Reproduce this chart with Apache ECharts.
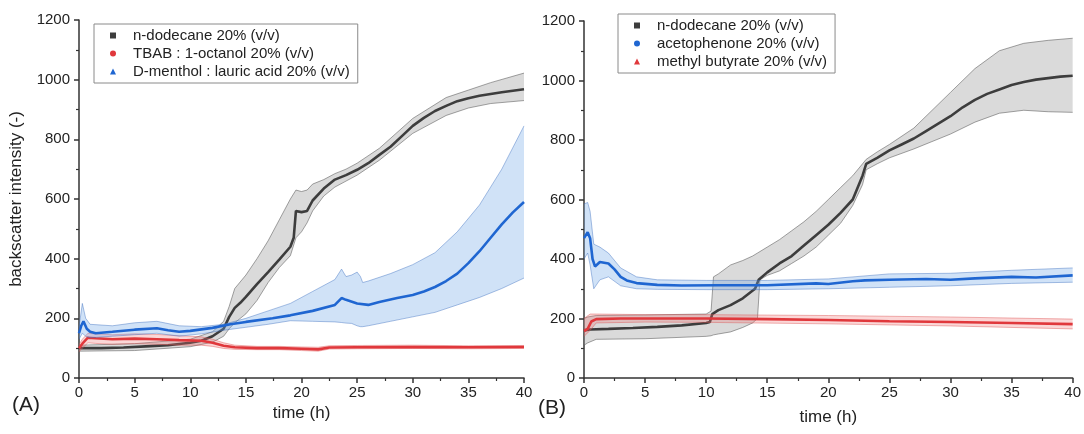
<!DOCTYPE html>
<html>
<head>
<meta charset="utf-8">
<script src="https://cdn.jsdelivr.net/npm/echarts@6/dist/echarts.min.js"></script>
<style>
  html, body { margin: 0; padding: 0; background: #fff; }
  #chart { width: 1084px; height: 434px; }
</style>
</head>
<body>
<div id="chart"></div>
<script>
// Axis ticks shared by both panels
const timeTicks = [0, 5, 10, 15, 20, 25, 30, 35, 40];
const intensityTicks = [0, 200, 400, 600, 800, 1000, 1200];

// ---------- Panel A ----------
// n-dodecane 20% (v/v)
const aDodecaneT    = [0, 2, 4, 6, 8, 10, 11, 12, 13, 13.5, 14, 14.5, 15, 16, 17, 18, 19, 19.3, 19.5, 20, 20.5, 21, 22, 23, 24, 25, 26, 27, 28, 29, 30, 31, 32, 33, 34, 35, 36, 37, 38, 39, 40];
const aDodecaneMean = [100, 100, 102, 106, 110, 118, 125, 140, 165, 205, 235, 252, 272, 315, 355, 397, 440, 470, 560, 556, 560, 595, 635, 665, 680, 698, 720, 748, 775, 810, 845, 872, 895, 912, 928, 938, 946, 952, 958, 963, 968];
const aDodecaneBandT = [0, 5, 10, 12, 13, 13.5, 14, 15, 16, 17, 18, 19, 19.5, 20, 20.5, 21, 22, 23, 24, 25, 27, 30, 33, 35, 37, 40];
const aDodecaneLo    = [90, 92, 105, 120, 140, 165, 185, 215, 260, 320, 370, 410, 470, 490, 520, 560, 610, 640, 660, 680, 730, 820, 880, 905, 920, 930];
const aDodecaneHi    = [110, 115, 130, 155, 190, 240, 300, 345, 400, 460, 530, 600, 630, 625, 630, 650, 665, 685, 700, 720, 770, 870, 940, 965, 990, 1022];

// TBAB : 1-octanol 20% (v/v)
const aTbabT    = [0, 0.3, 0.8, 1.5, 3, 5, 7, 9, 11, 12, 13, 14, 16, 18, 20, 21.5, 22.5, 25, 30, 35, 40];
const aTbabMean = [100, 115, 135, 133, 130, 132, 130, 127, 125, 118, 108, 103, 100, 100, 98, 96, 102, 103, 104, 103, 104];
const aTbabLo   = [88, 100, 118, 116, 113, 115, 113, 110, 110, 106, 99, 96, 95, 95, 92, 90, 97, 98, 99, 98, 99];
const aTbabHi   = [112, 130, 150, 148, 145, 148, 146, 142, 138, 130, 118, 110, 106, 106, 104, 103, 108, 109, 110, 108, 109];

// D-menthol : lauric acid 20% (v/v)
const aMentholT    = [0, 0.2, 0.4, 0.7, 1, 1.5, 3, 5, 7, 8, 9, 10, 12, 13.6, 15, 17.4, 19, 21, 23, 23.6, 24, 25, 26, 27, 28.6, 30, 31, 32, 33, 34, 35, 36, 37, 38, 39, 40];
const aMentholMean = [150, 175, 190, 165, 155, 150, 155, 162, 167, 160, 155, 158, 168, 180, 188, 200, 210, 225, 245, 268, 262, 250, 245, 255, 268, 278, 290, 305, 325, 350, 385, 425, 470, 515, 555, 590];
const aMentholBandT = [0, 0.3, 0.6, 1, 3, 5, 7, 9, 11, 13, 15, 17, 19, 21, 23, 23.6, 24, 24.5, 25, 25.3, 25.5, 26, 28, 30, 32, 34, 36, 38, 40];
const aMentholLo    = [130, 150, 140, 135, 140, 145, 150, 140, 148, 160, 170, 180, 192, 190, 188, 186, 184, 183, 175, 172, 172, 175, 190, 205, 220, 245, 270, 300, 335];
const aMentholHi    = [170, 250, 200, 180, 175, 185, 190, 175, 172, 180, 200, 225, 250, 290, 330, 365, 340, 345, 355, 340, 320, 325, 350, 380, 420, 490, 580, 700, 845];

// ---------- Panel B ----------
// n-dodecane 20% (v/v)
const bDodecaneT    = [0, 0.5, 2, 4, 6, 8, 10, 10.3, 10.5, 11, 12, 13, 14, 14.3, 15, 16, 17, 18, 19, 20, 21, 22, 22.8, 23.1, 24, 25, 26, 27, 28, 29, 30, 31, 32, 33, 34, 35, 36, 37, 38, 39, 40];
const bDodecaneMean = [160, 163, 165, 168, 172, 177, 185, 188, 215, 228, 245, 268, 300, 330, 355, 385, 410, 445, 480, 515, 555, 600, 680, 720, 740, 765, 785, 805, 830, 855, 880, 910, 935, 955, 970, 985, 995, 1003, 1008, 1013, 1016];
const bDodecaneBandT = [0, 0.3, 1, 5, 10, 10.4, 10.6, 11, 12, 13, 13.8, 14.2, 14.4, 15, 16, 17, 18, 19, 20, 21, 22, 22.8, 23.1, 24, 25, 27, 30, 32, 34, 36, 38, 40];
const bDodecaneLo    = [110, 118, 130, 132, 140, 142, 145, 148, 155, 170, 185, 200, 330, 345, 360, 385, 410, 440, 480, 520, 580, 650, 700, 720, 740, 770, 820, 860, 890, 900, 895, 893];
const bDodecaneHi    = [200, 205, 210, 212, 215, 225, 340, 350, 380, 395, 410, 420, 425, 440, 465, 495, 525, 560, 600, 640, 680, 720, 735, 760, 785, 840, 960, 1040, 1100, 1125, 1135, 1142];

// acetophenone 20% (v/v)
const bAcetoT    = [0, 0.3, 0.5, 0.7, 0.9, 1.3, 2, 2.5, 3, 3.5, 4.3, 6, 8, 11, 15, 19, 20, 22, 23, 25, 28, 30, 32, 35, 37, 40];
const bAcetoMean = [470, 490, 470, 400, 375, 390, 385, 365, 340, 328, 319, 313, 311, 312, 312, 318, 316, 325, 328, 330, 333, 330, 335, 340, 338, 345];
const bAcetoBandT = [0, 0.3, 0.5, 0.8, 1.3, 2, 3, 4.3, 6, 10, 15, 20, 25, 30, 35, 40];
const bAcetoLo    = [400, 420, 380, 300, 330, 340, 310, 300, 298, 297, 297, 300, 305, 310, 318, 322];
const bAcetoHi    = [585, 590, 560, 450, 440, 420, 370, 340, 330, 328, 328, 333, 350, 352, 362, 370];

// methyl butyrate 20% (v/v)
const bButyrateT    = [0, 0.3, 0.6, 1, 3, 6, 10, 15, 20, 25, 30, 35, 40];
const bButyrateMean = [158, 165, 190, 198, 200, 200, 200, 198, 195, 191, 188, 185, 181];
const bButyrateBandT = [0, 0.5, 1, 5, 10, 20, 30, 40];
const bButyrateLo    = [140, 160, 185, 188, 187, 182, 175, 165];
const bButyrateHi    = [200, 215, 215, 213, 213, 210, 205, 198];

const FONT = '"Liberation Sans", Arial, sans-serif';
const TEXT = '#222';

const GRAY = '#3d3d3d', GRAY_FILL = 'rgba(150,150,150,0.35)', GRAY_EDGE = 'rgba(90,90,90,0.7)';
const RED = '#e0383c', RED_FILL = 'rgba(240,110,110,0.28)', RED_EDGE = 'rgba(220,80,80,0.55)';
const BLUE = '#1f66d1', BLUE_FILL = 'rgba(110,165,230,0.32)', BLUE_EDGE = 'rgba(60,110,190,0.55)';

// Shaded range drawn as one polygon between lower and upper bounds
function band(axis, t, lo, hi, fill, edge, z) {
  return {
    type: 'custom',
    xAxisIndex: axis, yAxisIndex: axis,
    silent: true, z: z,
    data: t.map((v, i) => [v, lo[i], hi[i]]),
    encode: { x: 0, y: [1, 2] },
    renderItem: function (params, api) {
      if (params.dataIndex !== 0) return null;
      const upper = t.map((v, i) => api.coord([v, hi[i]]));
      const lower = t.map((v, i) => api.coord([v, lo[i]]));
      return {
        type: 'group',
        children: [
          { type: 'polygon', shape: { points: upper.concat(lower.slice().reverse()) }, style: { fill: fill } },
          { type: 'polyline', shape: { points: upper }, style: { stroke: edge, lineWidth: 0.8, fill: null } },
          { type: 'polyline', shape: { points: lower }, style: { stroke: edge, lineWidth: 0.8, fill: null } }
        ]
      };
    }
  };
}

function meanLine(axis, name, t, y, color, z) {
  return {
    type: 'line', name: name,
    xAxisIndex: axis, yAxisIndex: axis,
    data: t.map((v, i) => [v, y[i]]),
    showSymbol: false, symbolSize: 6,
    color: color,
    lineStyle: { width: 2.6, color: color },
    z: z
  };
}

function xAxis(grid, gap) {
  return {
    type: 'value', gridIndex: grid,
    min: timeTicks[0], max: timeTicks[timeTicks.length - 1],
    interval: timeTicks[1] - timeTicks[0],
    name: 'time (h)', nameLocation: 'middle', nameGap: gap,
    nameTextStyle: { fontFamily: FONT, fontSize: 17, color: TEXT },
    axisLine: { show: true, onZero: false, lineStyle: { color: '#333', width: 1.5 } },
    axisTick: { show: true, inside: false, length: 5, lineStyle: { color: '#333', width: 1.5 } },
    minorTick: { show: true, splitNumber: 2, length: 3, lineStyle: { color: '#333', width: 1.2 } },
    axisLabel: { fontFamily: FONT, fontSize: 15, color: TEXT, margin: 7, formatter: v => String(v) },
    splitLine: { show: false }
  };
}

function yAxis(grid, name) {
  return {
    type: 'value', gridIndex: grid,
    min: intensityTicks[0], max: intensityTicks[intensityTicks.length - 1],
    interval: intensityTicks[1] - intensityTicks[0],
    name: name, nameLocation: 'middle', nameGap: 54,
    nameTextStyle: { fontFamily: FONT, fontSize: 17, color: TEXT },
    axisLine: { show: true, onZero: false, lineStyle: { color: '#333', width: 1.5 } },
    axisTick: { show: true, inside: false, length: 5, lineStyle: { color: '#333', width: 1.5 } },
    minorTick: { show: true, splitNumber: 2, length: 3, lineStyle: { color: '#333', width: 1.2 } },
    axisLabel: { fontFamily: FONT, fontSize: 15, color: TEXT, margin: 9, formatter: v => String(v) },
    splitLine: { show: false }
  };
}

function legend(left, top, items) {
  return {
    orient: 'vertical', left: left, top: top,
    data: items,
    itemWidth: 6, itemHeight: 6, itemGap: 3,
    padding: [4, 8, 4, 16],
    borderColor: '#8a8a8a', borderWidth: 1,
    selectedMode: false,
    textStyle: { fontFamily: FONT, fontSize: 15, color: TEXT, padding: [0, 0, 0, 12] }
  };
}

const chart = echarts.init(document.getElementById('chart'), null, { renderer: 'canvas' });
chart.setOption({
  animation: false,
  backgroundColor: '#fff',
  grid: [
    { left: 79, top: 20, width: 445, height: 358 },
    { left: 584, top: 21, width: 489, height: 357 }
  ],
  xAxis: [xAxis(0, 26), xAxis(1, 31)],
  yAxis: [yAxis(0, 'backscatter intensity (-)'), yAxis(1, '')],
  legend: [
    legend(94, 24, [
      { name: 'n-dodecane 20% (v/v)', icon: 'rect' },
      { name: 'TBAB : 1-octanol 20% (v/v)', icon: 'circle' },
      { name: 'D-menthol : lauric acid 20% (v/v)', icon: 'triangle' }
    ]),
    legend(618, 14, [
      { name: 'n-dodecane 20% (v/v)', icon: 'rect' },
      { name: 'acetophenone 20% (v/v)', icon: 'circle' },
      { name: 'methyl butyrate 20% (v/v)', icon: 'triangle' }
    ])
  ],
  graphic: [
    { type: 'text', left: 12, top: 395, style: { text: '(A)', fontFamily: FONT, fontSize: 21, fill: TEXT } },
    { type: 'text', left: 538, top: 398, style: { text: '(B)', fontFamily: FONT, fontSize: 21, fill: TEXT } }
  ],
  series: [
    band(0, aDodecaneBandT, aDodecaneLo, aDodecaneHi, GRAY_FILL, GRAY_EDGE, 1),
    meanLine(0, 'n-dodecane 20% (v/v)', aDodecaneT, aDodecaneMean, GRAY, 2),
    band(0, aTbabT, aTbabLo, aTbabHi, RED_FILL, RED_EDGE, 3),
    meanLine(0, 'TBAB : 1-octanol 20% (v/v)', aTbabT, aTbabMean, RED, 4),
    band(0, aMentholBandT, aMentholLo, aMentholHi, BLUE_FILL, BLUE_EDGE, 5),
    meanLine(0, 'D-menthol : lauric acid 20% (v/v)', aMentholT, aMentholMean, BLUE, 6),

    band(1, bDodecaneBandT, bDodecaneLo, bDodecaneHi, GRAY_FILL, GRAY_EDGE, 1),
    meanLine(1, 'n-dodecane 20% (v/v)', bDodecaneT, bDodecaneMean, GRAY, 2),
    band(1, bAcetoBandT, bAcetoLo, bAcetoHi, BLUE_FILL, BLUE_EDGE, 3),
    meanLine(1, 'acetophenone 20% (v/v)', bAcetoT, bAcetoMean, BLUE, 4),
    band(1, bButyrateBandT, bButyrateLo, bButyrateHi, RED_FILL, RED_EDGE, 5),
    meanLine(1, 'methyl butyrate 20% (v/v)', bButyrateT, bButyrateMean, RED, 6)
  ]
});
</script>
</body>
</html>
